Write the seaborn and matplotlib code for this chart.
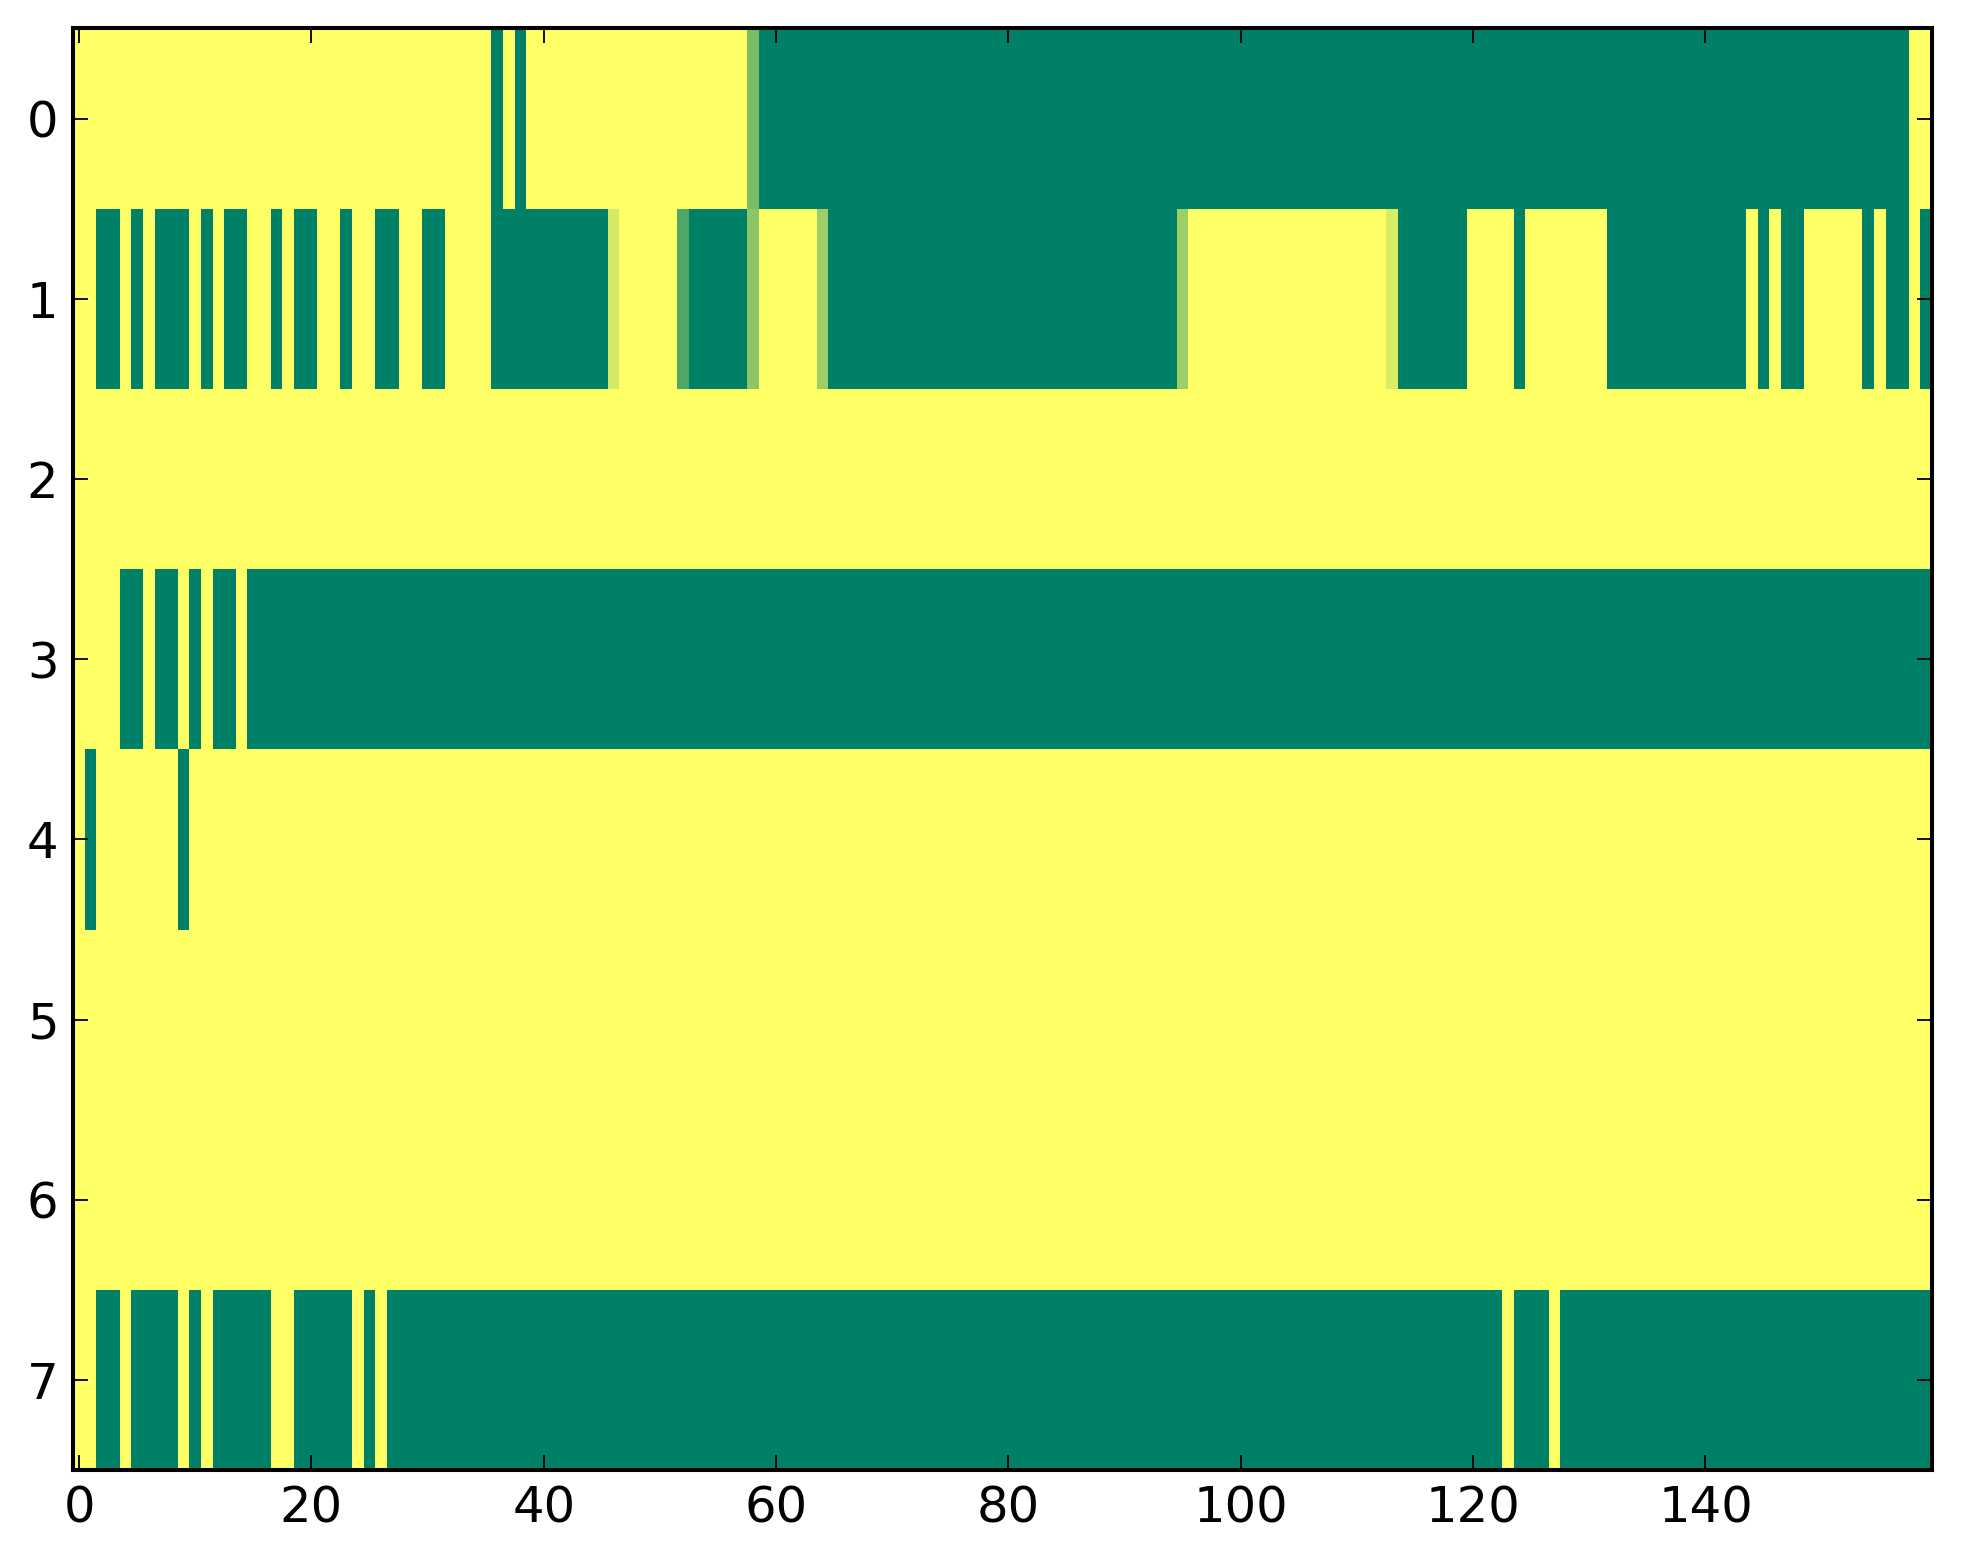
import numpy as np
import pandas as pd
import matplotlib
matplotlib.use('Agg')
import matplotlib.pyplot as plt
import seaborn as sns

sns.set_style('white', {'xtick.direction': 'in', 'ytick.direction': 'in'})
plt.rcParams['font.family'] = ['DejaVu Sans']

n_cols = 160
row_labels = [0, 1, 2, 3, 4, 5, 6, 7]
xtick_vals = [0, 20, 40, 60, 80, 100, 120, 140]

# green cells (value 0) as inclusive (start, end) runs, everything else is 1
row0_green = [(36, 36), (38, 38), (59, 157)]
row1_green = [(2, 3), (5, 5), (7, 9), (11, 11), (13, 14), (17, 17), (19, 20),
              (23, 23), (26, 27), (30, 31), (36, 45), (53, 57), (65, 94),
              (114, 119), (124, 124), (132, 143), (145, 145), (147, 148),
              (154, 154), (156, 157), (159, 159)]
row2_green = []
row3_green = [(4, 5), (7, 8), (10, 10), (12, 13), (15, 159)]
row4_green = [(1, 1), (9, 9)]
row5_green = []
row6_green = []
row7_green = [(2, 3), (5, 8), (10, 10), (12, 16), (19, 23), (25, 25),
              (27, 122), (124, 126), (128, 159)]

# in-between cells: (row, col, value)
partial_cells = [(0, 58, 0.47), (1, 46, 0.83), (1, 52, 0.31), (1, 58, 0.55),
                 (1, 64, 0.62), (1, 95, 0.62), (1, 113, 0.85)]

runs = [row0_green, row1_green, row2_green, row3_green,
        row4_green, row5_green, row6_green, row7_green]
grid = np.ones((len(row_labels), n_cols))
for r, spans in enumerate(runs):
    for a, b in spans:
        grid[r, a:b + 1] = 0.0
for r, c, v in partial_cells:
    grid[r, c] = v
df = pd.DataFrame(grid, index=row_labels)

fig = plt.figure(figsize=(1963 / 265, 1564 / 265), dpi=265)
ax = fig.add_axes([0.0373, 0.060, 0.9469, 0.9218])
sns.heatmap(df, cmap='summer', vmin=0, vmax=1, cbar=False,
            xticklabels=False, yticklabels=False, ax=ax, rasterized=True)

ax.set_axisbelow(False)
ax.set_xticks([v + 0.5 for v in xtick_vals])
ax.set_xticklabels([str(v) for v in xtick_vals], rotation=0)
ax.set_yticks([v + 0.5 for v in row_labels])
ax.set_yticklabels([str(v) for v in row_labels], rotation=0)
ax.set_xlabel('')
ax.set_ylabel('')
ax.tick_params(axis='both', which='major', direction='in', length=4, width=0.5,
               labelsize=13.5, top=True, right=True, bottom=True, left=True,
               color='black', labelcolor='black', pad=4)
for s in ax.spines.values():
    s.set_visible(True)
    s.set_linewidth(1.1)
    s.set_color('black')
    s.set_zorder(3)

plt.savefig('out.png', dpi=265)
plt.close(fig)
